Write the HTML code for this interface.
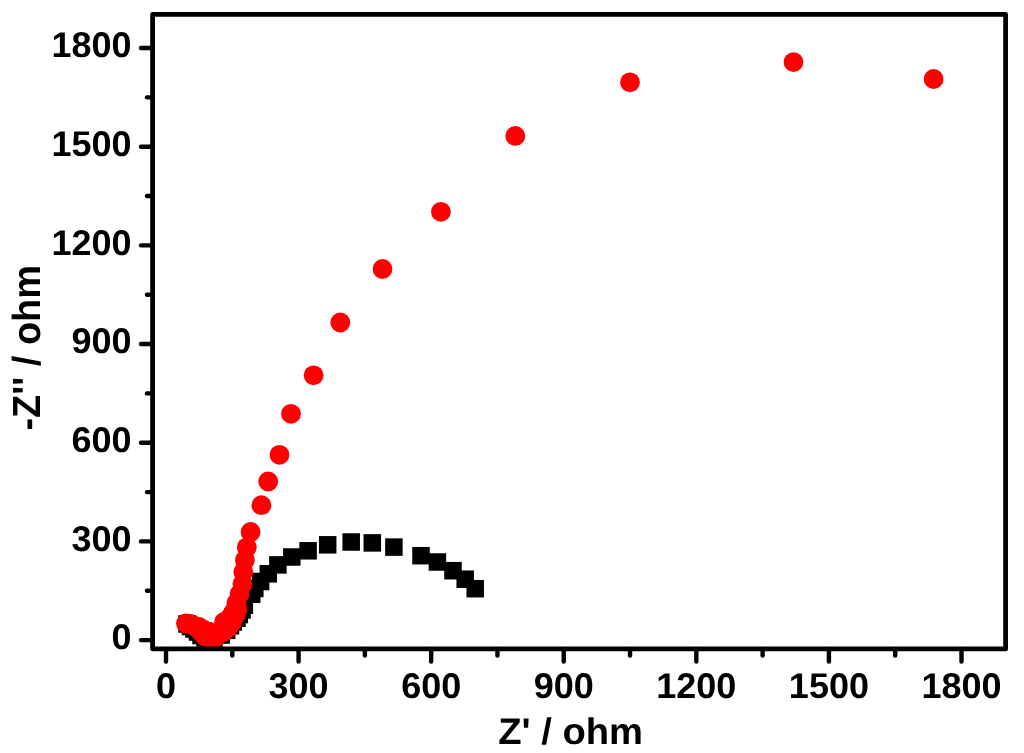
<!DOCTYPE html>
<html><head><meta charset="utf-8"><title>Nyquist plot</title>
<style>
html,body{margin:0;padding:0;background:#fff;}
body{width:1024px;height:753px;overflow:hidden;}
svg{display:block;will-change:transform;}
text{font-family:"Liberation Sans",Arial,sans-serif;font-weight:bold;fill:#000;text-rendering:geometricPrecision;}
</style></head><body>
<svg width="1024" height="753" viewBox="0 0 1024 753">
<rect width="1024" height="753" fill="#fff"/>
<g fill="#000"><rect x="466.45" y="579.95" width="17.5" height="17.5"/><rect x="456.45" y="570.45" width="17.5" height="17.5"/><rect x="444.25" y="561.95" width="17.5" height="17.5"/><rect x="428.65" y="553.25" width="17.5" height="17.5"/><rect x="412.25" y="546.95" width="17.5" height="17.5"/><rect x="385.15" y="538.35" width="17.5" height="17.5"/><rect x="363.55" y="534.15" width="17.5" height="17.5"/><rect x="342.45" y="533.25" width="17.5" height="17.5"/><rect x="318.95" y="536.05" width="17.5" height="17.5"/><rect x="299.35" y="542.05" width="17.5" height="17.5"/><rect x="283.05" y="548.25" width="17.5" height="17.5"/><rect x="269.15" y="556.15" width="17.5" height="17.5"/><rect x="259.55" y="565.05" width="17.5" height="17.5"/><rect x="251.85" y="572.75" width="17.5" height="17.5"/><rect x="246.05" y="579.75" width="17.5" height="17.5"/><rect x="242.95" y="585.45" width="17.5" height="17.5"/><rect x="235.60" y="596.50" width="17.5" height="17.5"/><rect x="233.30" y="601.20" width="17.5" height="17.5"/><rect x="230.50" y="605.80" width="17.5" height="17.5"/><rect x="228.20" y="609.50" width="17.5" height="17.5"/><rect x="224.50" y="613.30" width="17.5" height="17.5"/><rect x="221.70" y="617.00" width="17.5" height="17.5"/><rect x="217.90" y="621.60" width="17.5" height="17.5"/><rect x="212.40" y="626.30" width="17.5" height="17.5"/><rect x="205.20" y="629.80" width="17.5" height="17.5"/><rect x="200.25" y="630.25" width="17.5" height="17.5"/><rect x="196.25" y="629.25" width="17.5" height="17.5"/><rect x="192.25" y="626.75" width="17.5" height="17.5"/><rect x="188.75" y="623.25" width="17.5" height="17.5"/><rect x="185.25" y="620.25" width="17.5" height="17.5"/><rect x="181.75" y="617.75" width="17.5" height="17.5"/><rect x="178.25" y="615.25" width="17.5" height="17.5"/></g>
<g fill="#ff0000"><circle cx="186.00" cy="623.50" r="9.9"/><circle cx="190.00" cy="624.00" r="9.9"/><circle cx="192.00" cy="624.50" r="9.9"/><circle cx="197.00" cy="628.00" r="9.9"/><circle cx="199.00" cy="627.00" r="9.9"/><circle cx="201.00" cy="632.00" r="9.9"/><circle cx="203.00" cy="629.50" r="9.9"/><circle cx="205.00" cy="636.50" r="9.9"/><circle cx="208.00" cy="631.50" r="9.9"/><circle cx="209.50" cy="632.00" r="9.9"/><circle cx="211.00" cy="638.00" r="9.9"/><circle cx="215.00" cy="637.50" r="9.9"/><circle cx="219.30" cy="634.00" r="9.9"/><circle cx="223.00" cy="629.50" r="9.9"/><circle cx="224.00" cy="622.00" r="9.9"/><circle cx="226.00" cy="625.70" r="9.9"/><circle cx="229.00" cy="619.50" r="9.9"/><circle cx="223.50" cy="632.00" r="9.9"/><circle cx="228.50" cy="627.50" r="9.9"/><circle cx="232.00" cy="622.00" r="9.9"/><circle cx="231.50" cy="615.50" r="9.9"/><circle cx="235.50" cy="615.00" r="9.9"/><circle cx="233.50" cy="612.00" r="9.9"/><circle cx="237.50" cy="609.00" r="9.9"/><circle cx="236.40" cy="603.00" r="9.9"/><circle cx="239.50" cy="594.00" r="9.9"/><circle cx="242.40" cy="584.00" r="9.9"/><circle cx="243.30" cy="572.00" r="9.9"/><circle cx="244.90" cy="560.00" r="9.9"/><circle cx="246.80" cy="547.30" r="9.9"/><circle cx="250.60" cy="531.90" r="9.9"/><circle cx="261.40" cy="505.20" r="9.9"/><circle cx="268.20" cy="481.50" r="9.9"/><circle cx="279.50" cy="454.80" r="9.9"/><circle cx="291.00" cy="413.80" r="9.9"/><circle cx="313.60" cy="375.30" r="9.9"/><circle cx="340.30" cy="322.50" r="9.9"/><circle cx="382.50" cy="269.00" r="9.9"/><circle cx="440.90" cy="211.80" r="9.9"/><circle cx="515.30" cy="135.90" r="9.9"/><circle cx="630.00" cy="82.30" r="9.9"/><circle cx="793.50" cy="62.10" r="9.9"/><circle cx="933.60" cy="79.00" r="9.9"/></g>
<rect x="152.6" y="14.4" width="853.00" height="634.50" fill="none" stroke="#000" stroke-width="4.8" stroke-linejoin="round"/>
<g stroke="#000" stroke-width="4.4" stroke-linecap="round"><line x1="166.00" y1="648.90" x2="166.00" y2="661.50"/><line x1="232.29" y1="648.90" x2="232.29" y2="655.50"/><line x1="298.58" y1="648.90" x2="298.58" y2="661.50"/><line x1="364.87" y1="648.90" x2="364.87" y2="655.50"/><line x1="431.16" y1="648.90" x2="431.16" y2="661.50"/><line x1="497.45" y1="648.90" x2="497.45" y2="655.50"/><line x1="563.75" y1="648.90" x2="563.75" y2="661.50"/><line x1="630.04" y1="648.90" x2="630.04" y2="655.50"/><line x1="696.33" y1="648.90" x2="696.33" y2="661.50"/><line x1="762.62" y1="648.90" x2="762.62" y2="655.50"/><line x1="828.91" y1="648.90" x2="828.91" y2="661.50"/><line x1="895.20" y1="648.90" x2="895.20" y2="655.50"/><line x1="961.49" y1="648.90" x2="961.49" y2="661.50"/><line x1="152.60" y1="640.10" x2="141.00" y2="640.10"/><line x1="152.60" y1="590.76" x2="147.00" y2="590.76"/><line x1="152.60" y1="541.42" x2="141.00" y2="541.42"/><line x1="152.60" y1="492.08" x2="147.00" y2="492.08"/><line x1="152.60" y1="442.74" x2="141.00" y2="442.74"/><line x1="152.60" y1="393.39" x2="147.00" y2="393.39"/><line x1="152.60" y1="344.05" x2="141.00" y2="344.05"/><line x1="152.60" y1="294.71" x2="147.00" y2="294.71"/><line x1="152.60" y1="245.37" x2="141.00" y2="245.37"/><line x1="152.60" y1="196.03" x2="147.00" y2="196.03"/><line x1="152.60" y1="146.69" x2="141.00" y2="146.69"/><line x1="152.60" y1="97.35" x2="147.00" y2="97.35"/><line x1="152.60" y1="48.01" x2="141.00" y2="48.01"/></g>
<g font-size="36" text-anchor="middle"><text transform="translate(166.00,698.3) scale(1,0.99)">0</text><text transform="translate(298.58,698.3) scale(1,0.99)">300</text><text transform="translate(431.16,698.3) scale(1,0.99)">600</text><text transform="translate(563.75,698.3) scale(1,0.99)">900</text><text transform="translate(696.33,698.3) scale(1,0.99)">1200</text><text transform="translate(828.91,698.3) scale(1,0.99)">1500</text><text transform="translate(961.49,698.3) scale(1,0.99)">1800</text></g>
<g font-size="36" text-anchor="end"><text transform="translate(131.5,649.30) scale(1,0.99)">0</text><text transform="translate(131.5,550.62) scale(1,0.99)">300</text><text transform="translate(131.5,451.94) scale(1,0.99)">600</text><text transform="translate(131.5,353.25) scale(1,0.99)">900</text><text transform="translate(131.5,254.57) scale(1,0.99)">1200</text><text transform="translate(131.5,155.89) scale(1,0.99)">1500</text><text transform="translate(131.5,57.21) scale(1,0.99)">1800</text></g>
<text x="570.6" y="744.2" font-size="37" text-anchor="middle" textLength="144.8" lengthAdjust="spacingAndGlyphs">Z' / ohm</text>
<text transform="translate(40.2,347.8) rotate(-90) scale(1,1.06)" font-size="37" text-anchor="middle" textLength="165.5" lengthAdjust="spacingAndGlyphs">-Z'' / ohm</text>
</svg>
</body></html>
